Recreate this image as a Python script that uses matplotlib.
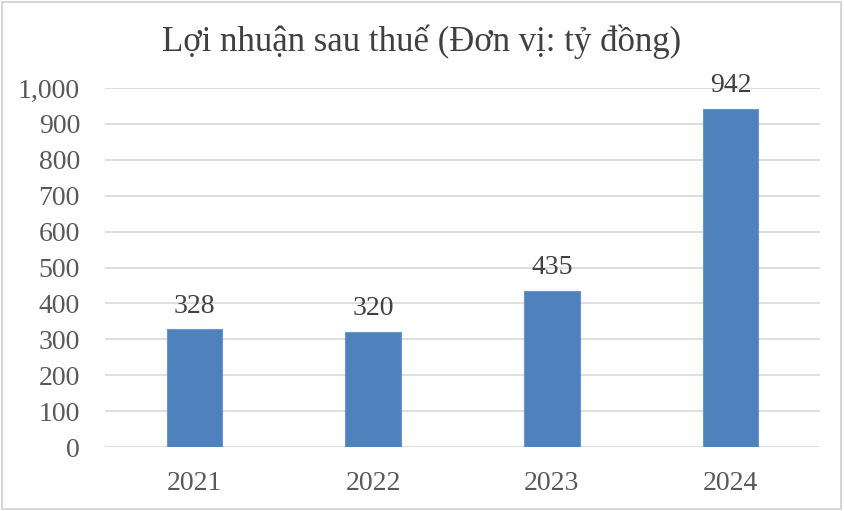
import matplotlib
matplotlib.use("Agg")
import matplotlib.pyplot as plt
from matplotlib.patches import Rectangle

# data
years = ['2021', '2022', '2023', '2024']
profit = [328, 320, 435, 942]
yticks = list(range(0, 1001, 100))

plt.rcParams['font.family'] = ['Liberation Serif', 'DejaVu Serif']
text_color = '#595959'

fig = plt.figure(figsize=(8.44, 5.11), dpi=100)
ax = fig.add_axes([105 / 844, 1 - 447 / 511, 715 / 844, (447 - 88) / 511])

x = range(len(years))
bars = ax.bar(x, profit, width=0.31, color='#4F81BD', edgecolor='#6A96CC', linewidth=0.8, zorder=3)

for xi, v in zip(x, profit):
    ax.annotate(str(v), (xi, v), xytext=(0, 12), textcoords='offset points',
                ha='center', va='baseline', fontsize=20, color='#404040')

ax.set_xlim(-0.5, len(years) - 0.5)
ax.set_ylim(0, 1000)
ax.set_yticks(yticks)
ax.set_yticklabels([f'{t:,}' for t in yticks])
ax.set_xticks(list(x))
ax.set_xticklabels(years)
ax.grid(axis='y', color='#D9D9D9', linewidth=1.2, zorder=0)
ax.tick_params(axis='both', length=0, labelsize=20, colors=text_color)
ax.tick_params(axis='y', pad=18)
ax.tick_params(axis='x', pad=17)
for s in ax.spines.values():
    s.set_visible(False)

fig.text(0.5, 1 - 42 / 511, 'Lợi nhuận sau thuế (Đơn vị: tỷ đồng)', ha='center', va='center',
         fontsize=25, color='#404040')

fig.patches.append(Rectangle((0.002, 0.003), 0.995, 0.993, transform=fig.transFigure,
                             fill=False, edgecolor='#D0D0D0', linewidth=1.2))

fig.savefig('out.png', dpi=100)
